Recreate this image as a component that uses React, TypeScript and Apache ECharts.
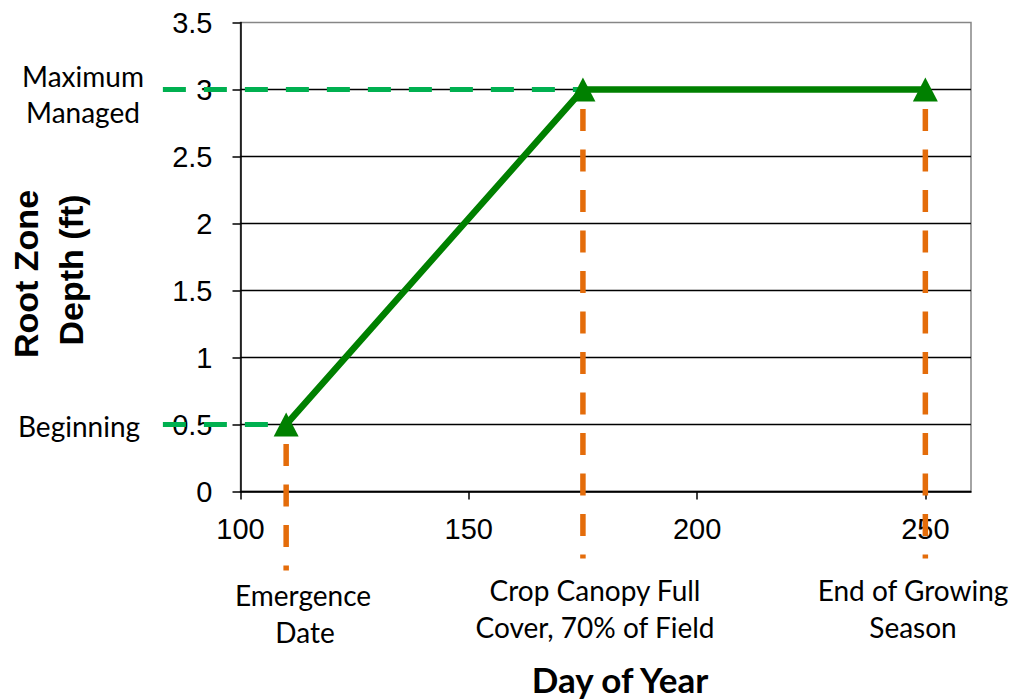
import React, { useEffect, useRef } from "react";
import * as echarts from "echarts";

// ---- data ----
const days = [110, 175, 250];
const depths = [0.5, 3, 3];
const xTicks = [100, 150, 200, 250];
const xMin = 100;
const xMax = 260;
const yMin = 0;
const yMax = 3.5;
const guideLeftDay = 83; // where the green dashed guides start (left of the axis)
const beginningDepth = 0.5;
const maxManagedDepth = 3;
const beginningDay = 110;
const maxManagedDay = 175;
const orangeBottoms = [-0.59, -0.5, -0.5];
const milestoneLabels = [
  ["Emergence", "Date"],
  ["Crop Canopy Full", "Cover, 70% of Field"],
  ["End of Growing", "Season"],
];
const depthLabelsMax = ["Maximum", "Managed"];
const depthLabelBegin = "Beginning";
const yTitle = ["Root Zone", "Depth (ft)"];
const xTitle = "Day of Year";

const GREEN = "#008000";
const GUIDE_GREEN = "#00B050";
const ORANGE = "#E46C0A";
const CAL = "Lato, 'Open Sans', sans-serif";
const ARIAL = "'Liberation Sans', Arial, sans-serif";

function txt(text: string, x: number, y: number, size: number, opts: any = {}) {
  return {
    type: "text",
    x,
    y,
    rotation: opts.rotation || 0,
    z: 10,
    style: {
      text,
      fill: "#000",
      fontSize: size,
      fontFamily: opts.family || CAL,
      fontWeight: opts.weight || "normal",
      align: "center",
      verticalAlign: "middle",
    },
  };
}

export default function App() {
  const ref = useRef<HTMLDivElement>(null);
  useEffect(() => {
    if (!ref.current) return;
    const chart = echarts.init(ref.current, undefined, { renderer: "svg" });

    const option: any = {
      animation: false,
      grid: {
        left: 240.5,
        top: 22.5,
        width: 730.5,
        height: 469,
        show: true,
        borderColor: "#868686",
        borderWidth: 1.5,
        backgroundColor: "transparent",
      },
      xAxis: {
        type: "value",
        min: xMin,
        max: xMax,
        interval: 50,
        axisLine: { show: true, onZero: false, lineStyle: { color: "#000", width: 1.5 } },
        axisTick: { show: true, length: 8, customValues: xTicks, lineStyle: { color: "#000", width: 1.5 } },
        axisLabel: {
          customValues: xTicks,
          fontSize: 29,
          fontFamily: ARIAL,
          color: "#000",
          margin: 23,
        },
        splitLine: { show: false },
      },
      yAxis: {
        type: "value",
        min: yMin,
        max: yMax,
        interval: 0.5,
        axisLine: { show: true, onZero: false, lineStyle: { color: "#000", width: 1.5 } },
        axisTick: { show: true, length: 8, lineStyle: { color: "#000", width: 1.5 } },
        axisLabel: { fontSize: 29, fontFamily: ARIAL, color: "#000", margin: 28 },
        splitLine: { show: true, showMaxLine: false, lineStyle: { color: "#000", width: 1.3 } },
      },
      series: [
        {
          type: "line",
          data: days.map((d, i) => [d, depths[i]]),
          symbol: "triangle",
          symbolSize: [25, 24],
          showSymbol: true,
          z: 3,
          itemStyle: { color: GREEN },
          lineStyle: { color: GREEN, width: 6.5 },
        },
      ],
      graphic: [
        txt(depthLabelsMax[0], 83, 76, 28),
        txt(depthLabelsMax[1], 83, 112, 28),
        txt(depthLabelBegin, 79, 426, 28),
        txt(milestoneLabels[0][0], 303, 595, 28),
        txt(milestoneLabels[0][1], 305, 632, 28),
        txt(milestoneLabels[1][0], 595, 590, 28),
        txt(milestoneLabels[1][1], 595, 627, 28),
        txt(milestoneLabels[2][0], 913, 590, 28),
        txt(milestoneLabels[2][1], 913, 627, 28),
        txt(xTitle, 620, 679, 35, { weight: "bold" }),
        txt(yTitle[0], 26, 274, 34, { family: ARIAL, weight: "bold", rotation: Math.PI / 2 }),
        txt(yTitle[1], 71, 270, 34, { family: ARIAL, weight: "bold", rotation: Math.PI / 2 }),
      ],
    };
    chart.setOption(option);

    // guide lines placed through the chart's own scales
    const px = (d: number, v: number) => chart.convertToPixel({ gridIndex: 0 }, [d, v]) as number[];
    const guide = (a: number[], b: number[], color: string, width: number, dash: number[], offset: number) => ({
      type: "line",
      z: 1,
      silent: true,
      shape: { x1: a[0], y1: a[1], x2: b[0], y2: b[1] },
      style: { stroke: color, lineWidth: width, lineDash: dash, lineDashOffset: offset, lineCap: "butt" },
    });
    const guides: any[] = [];
    days.forEach((d, i) => {
      guides.push(guide(px(d, depths[i]), px(d, orangeBottoms[i]), ORANGE, 5.5, [22, 18.5], 21));
    });
    guides.push(
      guide(px(guideLeftDay, beginningDepth), px(beginningDay, beginningDepth), GUIDE_GREEN, 5, [23, 18], 0)
    );
    guides.push(
      guide(px(guideLeftDay, maxManagedDepth), px(maxManagedDay, maxManagedDepth), GUIDE_GREEN, 5, [23, 18], 0)
    );
    chart.setOption({ graphic: [...option.graphic, ...guides] }, { replaceMerge: ["graphic"] });

    return () => chart.dispose();
  }, []);
  return (
    <div
      ref={ref}
      style={{ position: "absolute", left: 0, top: 0, width: 1010, height: 700, background: "#fff" }}
    />
  );
}
